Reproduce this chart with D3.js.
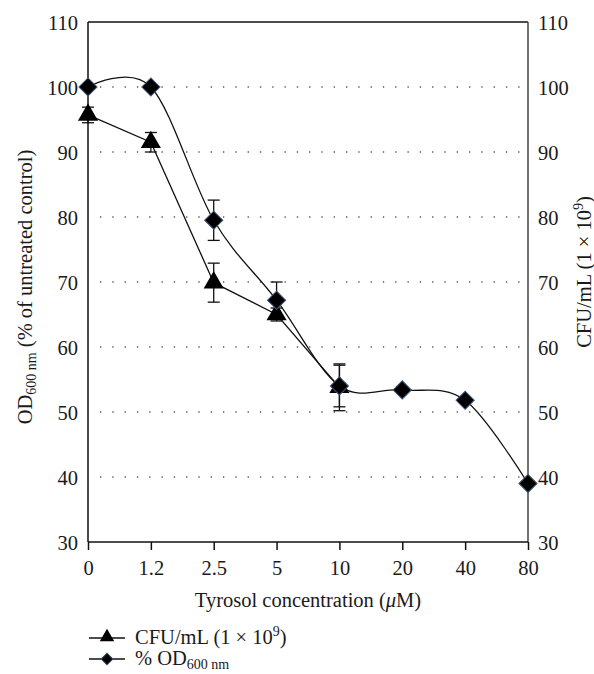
<!DOCTYPE html>
<html>
<head>
<meta charset="utf-8">
<script src="https://cdn.jsdelivr.net/npm/d3@7"></script>
<style>
body { margin: 0; background: #fff; }
text { font-family: "Liberation Serif", "DejaVu Serif", serif; fill: #1a1a1a; }
</style>
</head>
<body>
<div id="chart"></div>
<script>
// tyrosol concentrations (uM), one category each
const concentrations = ["0", "1.2", "2.5", "5", "10", "20", "40", "80"];
// CFU/mL (1 x 10^9), only measured up to 10 uM
const cfuValues = [95.7, 91.5, 69.9, 65.0, 53.8];
const cfuErrors = [1.2, 1.5, 3.0, 1.0, 3.6];
// % OD600 of untreated control
const odValues = [100, 100, 79.5, 67.2, 54.0, 53.4, 51.8, 39.0];
const odErrors = [0, 0, 3.1, 2.8, 3.2, 0, 0, 0];
const yTicks = [30, 40, 50, 60, 70, 80, 90, 100, 110];
const gridTicks = [40, 50, 60, 70, 80, 90, 100];

const width = 594, height = 674;
const plotLeft = 88, plotRight = 528, plotTop = 22, plotBottom = 542;
const fs = 20.5, fsSmall = 14;

const svg = d3.select("#chart").append("svg")
    .attr("width", width)
    .attr("height", height);

const x = d3.scalePoint()
    .domain(concentrations)
    .range([plotLeft, plotRight]);
const y = d3.scaleLinear()
    .domain([30, 110])
    .range([plotBottom, plotTop]);

// dotted grid
svg.append("g")
    .selectAll("line")
    .data(gridTicks)
    .enter().append("line")
    .attr("x1", plotLeft + 12)
    .attr("x2", plotRight - 4)
    .attr("y1", d => y(d))
    .attr("y2", d => y(d))
    .attr("stroke", "#555")
    .attr("stroke-width", 1.3)
    .attr("stroke-dasharray", "1.3 11");

// frame
svg.append("line").attr("x1", plotLeft).attr("x2", plotRight).attr("y1", plotTop).attr("y2", plotTop)
    .attr("stroke", "#111").attr("stroke-width", 1.3);
svg.append("line").attr("x1", plotRight).attr("x2", plotRight).attr("y1", plotTop).attr("y2", plotBottom)
    .attr("stroke", "#444").attr("stroke-width", 1.5);
svg.append("line").attr("x1", plotLeft).attr("x2", plotLeft).attr("y1", plotTop).attr("y2", plotBottom)
    .attr("stroke", "#111").attr("stroke-width", 1.5);
svg.append("line").attr("x1", plotLeft).attr("x2", plotRight).attr("y1", plotBottom).attr("y2", plotBottom)
    .attr("stroke", "#111").attr("stroke-width", 1.5);

// axes
const xAxis = svg.append("g")
    .attr("transform", "translate(0," + plotBottom + ")")
    .call(d3.axisBottom(x).tickSize(8).tickPadding(10));
xAxis.select(".domain").remove();
xAxis.selectAll("line").attr("stroke", "#111").attr("stroke-width", 1.5);
xAxis.selectAll("text").attr("font-size", fs).attr("fill", "#1a1a1a");

const yLeft = svg.append("g")
    .attr("transform", "translate(" + plotLeft + ",0)")
    .call(d3.axisLeft(y).tickValues(yTicks).tickSize(0).tickPadding(10));
yLeft.select(".domain").remove();
yLeft.selectAll("text").attr("font-size", fs).attr("fill", "#1a1a1a").attr("dy", "0.35em");

const yRight = svg.append("g")
    .attr("transform", "translate(" + plotRight + ",0)")
    .call(d3.axisRight(y).tickValues(yTicks).tickSize(0).tickPadding(10));
yRight.select(".domain").remove();
yRight.selectAll("text").attr("font-size", fs).attr("fill", "#1a1a1a").attr("dy", "0.35em");

// axis titles
const xt = svg.append("text")
    .attr("x", 308).attr("y", 607)
    .attr("text-anchor", "middle")
    .attr("font-size", fs);
xt.append("tspan").text("Tyrosol concentration (");
xt.append("tspan").attr("font-style", "italic").text("\u03bc");
xt.append("tspan").text("M)");

const lt = svg.append("text")
    .attr("transform", "translate(32,287) rotate(-90)")
    .attr("text-anchor", "middle")
    .attr("font-size", fs);
lt.append("tspan").text("OD");
lt.append("tspan").attr("font-size", fsSmall).attr("dy", 4).text("600 nm");
lt.append("tspan").attr("dy", -4).text(" (% of untreated control)");

const rt = svg.append("text")
    .attr("transform", "translate(591,272) rotate(-90)")
    .attr("text-anchor", "middle")
    .attr("font-size", fs);
rt.append("tspan").text("CFU/mL (1 \u00d7 10");
rt.append("tspan").attr("font-size", fsSmall).attr("dy", -8).text("9");
rt.append("tspan").attr("dy", 8).text(")");

// series data
const cfu = cfuValues.map((v, i) => ({c: concentrations[i], v: v, e: cfuErrors[i]}));
const od = odValues.map((v, i) => ({c: concentrations[i], v: v, e: odErrors[i]}));

function errorBars(data) {
    const g = svg.append("g").attr("stroke", "#111").attr("stroke-width", 1.3);
    const d = data.filter(p => p.e > 0);
    g.selectAll(".v").data(d).enter().append("line")
        .attr("x1", p => x(p.c)).attr("x2", p => x(p.c))
        .attr("y1", p => y(p.v + p.e)).attr("y2", p => y(p.v - p.e));
    g.selectAll(".t").data(d).enter().append("line")
        .attr("x1", p => x(p.c) - 6).attr("x2", p => x(p.c) + 6)
        .attr("y1", p => y(p.v + p.e)).attr("y2", p => y(p.v + p.e));
    g.selectAll(".b").data(d).enter().append("line")
        .attr("x1", p => x(p.c) - 6).attr("x2", p => x(p.c) + 6)
        .attr("y1", p => y(p.v - p.e)).attr("y2", p => y(p.v - p.e));
}

errorBars(cfu);
errorBars(od);

// CFU: straight segments, triangles
svg.append("path")
    .datum(cfu)
    .attr("fill", "none")
    .attr("stroke", "#111")
    .attr("stroke-width", 1.3)
    .attr("d", d3.line().x(p => x(p.c)).y(p => y(p.v)));

const tri = d3.symbol().type(d3.symbolTriangle).size(175);
svg.append("g").selectAll("path")
    .data(cfu)
    .enter().append("path")
    .attr("d", tri)
    .attr("transform", p => "translate(" + x(p.c) + "," + y(p.v) + ")")
    .attr("fill", "#000");

// OD: smoothed line, diamonds
svg.append("path")
    .datum(od)
    .attr("fill", "none")
    .attr("stroke", "#111")
    .attr("stroke-width", 1.3)
    .attr("d", d3.line().curve(d3.curveCardinal.tension(0)).x(p => x(p.c)).y(p => y(p.v)));

const dia = d3.symbol().type(d3.symbolSquare).size(165);
svg.append("g").selectAll("path")
    .data(od)
    .enter().append("path")
    .attr("d", dia)
    .attr("transform", p => "translate(" + x(p.c) + "," + y(p.v) + ") rotate(45)")
    .attr("fill", "#000")
    .attr("stroke", "#3d5877")
    .attr("stroke-width", 1);

// legend
const legend = svg.append("g");
legend.append("line").attr("x1", 89).attr("x2", 125).attr("y1", 638).attr("y2", 638)
    .attr("stroke", "#111").attr("stroke-width", 1.3);
legend.append("path").attr("d", d3.symbol().type(d3.symbolTriangle).size(90))
    .attr("transform", "translate(107,637)").attr("fill", "#000");
const l1 = legend.append("text").attr("x", 135).attr("y", 644).attr("font-size", fs);
l1.append("tspan").text("CFU/mL (1 \u00d7 10");
l1.append("tspan").attr("font-size", fsSmall).attr("dy", -8).text("9");
l1.append("tspan").attr("dy", 8).text(")");

legend.append("line").attr("x1", 89).attr("x2", 125).attr("y1", 659).attr("y2", 659)
    .attr("stroke", "#111").attr("stroke-width", 1.3);
legend.append("path").attr("d", d3.symbol().type(d3.symbolSquare).size(70))
    .attr("transform", "translate(107,659) rotate(45)")
    .attr("fill", "#000").attr("stroke", "#3d5877").attr("stroke-width", 1);
const l2 = legend.append("text").attr("x", 135).attr("y", 665).attr("font-size", fs);
l2.append("tspan").text("% OD");
l2.append("tspan").attr("font-size", fsSmall).attr("dy", 4).text("600 nm");
</script>
</body>
</html>
